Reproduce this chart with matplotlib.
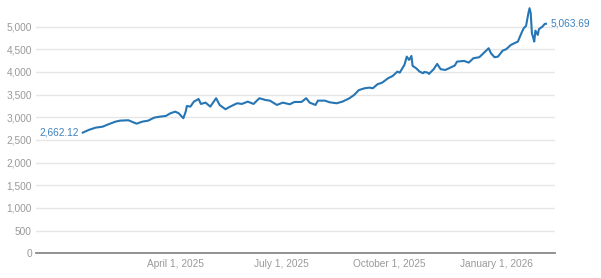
import matplotlib
matplotlib.use("Agg")
import matplotlib.pyplot as plt
import pandas as pd

plt.rcParams['font.family'] = ['Liberation Sans', 'DejaVu Sans']

dates = [
    "2025-01-12", "2025-01-17", "2025-01-23", "2025-01-29", "2025-02-03", "2025-02-09",
    "2025-02-13", "2025-02-20", "2025-02-27", "2025-03-04", "2025-03-09", "2025-03-14",
    "2025-03-19", "2025-03-24", "2025-03-28", "2025-04-01", "2025-04-04", "2025-04-08",
    "2025-04-10", "2025-04-11", "2025-04-14", "2025-04-17", "2025-04-21", "2025-04-23",
    "2025-04-27", "2025-05-01", "2025-05-06", "2025-05-09", "2025-05-14", "2025-05-18",
    "2025-05-24", "2025-05-28", "2025-06-02", "2025-06-07", "2025-06-12", "2025-06-17",
    "2025-06-21", "2025-06-27", "2025-07-02", "2025-07-08", "2025-07-12", "2025-07-18",
    "2025-07-22", "2025-07-25", "2025-07-30", "2025-08-01", "2025-08-07", "2025-08-11",
    "2025-08-17", "2025-08-22", "2025-08-28", "2025-09-01", "2025-09-05", "2025-09-10",
    "2025-09-14", "2025-09-17", "2025-09-21", "2025-09-25", "2025-09-30", "2025-10-04",
    "2025-10-08", "2025-10-10", "2025-10-14", "2025-10-16", "2025-10-18", "2025-10-20",
    "2025-10-21", "2025-10-24", "2025-10-27", "2025-10-30", "2025-10-31", "2025-11-03",
    "2025-11-04", "2025-11-08", "2025-11-11", "2025-11-14", "2025-11-18", "2025-11-23",
    "2025-11-26", "2025-11-28", "2025-12-04", "2025-12-08", "2025-12-12", "2025-12-17",
    "2025-12-20", "2025-12-25", "2025-12-27", "2025-12-30", "2026-01-02", "2026-01-06",
    "2026-01-09", "2026-01-13", "2026-01-16", "2026-01-19", "2026-01-22", "2026-01-24",
    "2026-01-26", "2026-01-28", "2026-01-29", "2026-01-30", "2026-01-31", "2026-02-01",
    "2026-02-02", "2026-02-03", "2026-02-05", "2026-02-06", "2026-02-09", "2026-02-11",
    "2026-02-12",
]
values = [
    2662.12, 2721, 2772, 2794, 2847, 2905,
    2927, 2935, 2860, 2905, 2927, 2993,
    3015, 3030, 3090, 3125, 3090, 2980,
    3125, 3251, 3236, 3346, 3405, 3295,
    3324, 3236, 3421, 3273, 3178, 3236,
    3310, 3295, 3346, 3295, 3421, 3383,
    3368, 3273, 3324, 3288, 3339, 3339,
    3421, 3324, 3273, 3368, 3368, 3332,
    3310, 3346, 3421, 3494, 3600, 3641,
    3655, 3641, 3730, 3765, 3862, 3913,
    4008, 3986, 4156, 4339, 4266, 4354,
    4134, 4083, 4008, 3973, 4001, 3986,
    3957, 4061, 4178, 4061, 4045, 4105,
    4141, 4229, 4244, 4207, 4304, 4326,
    4399, 4524, 4414, 4326, 4339, 4472,
    4502, 4597, 4635, 4670, 4855, 4966,
    5017, 5297, 5407, 5297, 4855, 4767,
    4670, 4913, 4818, 4944, 5001, 5061,
    5063.69,
]
yticks = [0, 500, 1000, 1500, 2000, 2500, 3000, 3500, 4000, 4500, 5000]
xtick_dates = ["2025-04-01", "2025-07-01", "2025-10-01", "2026-01-01"]
xtick_labels = ["April 1, 2025", "July 1, 2025", "October 1, 2025", "January 1, 2026"]
start_label = "2,662.12"
end_label = "5,063.69"

x = pd.to_datetime(dates)
line_color = "#2676b5"
text_color = "#3d82bd"
tick_color = "#999999"

fig = plt.figure(figsize=(6.01, 2.78), dpi=100)
ax = fig.add_axes([36 / 601, (278 - 253.3) / 278, (555 - 36) / 601, 249.3 / 278])

ax.plot(x, values, color=line_color, lw=1.5, solid_joinstyle="round")

ax.set_ylim(0, 5500)
ax.set_xlim(pd.Timestamp("2024-12-03"), pd.Timestamp("2026-02-19 18:00"))
ax.set_yticks(yticks)
ax.set_yticklabels([f"{v:,}" for v in yticks])
ax.set_xticks(pd.to_datetime(xtick_dates))
ax.set_xticklabels(xtick_labels)

ax.grid(axis="y", color="#e6e6e6", lw=1.0)
ax.set_axisbelow(True)
for s in ["top", "right", "left"]:
    ax.spines[s].set_visible(False)
ax.spines["bottom"].set_color("#8a8a8a")
ax.spines["bottom"].set_linewidth(1.3)
ax.tick_params(axis="both", length=0, colors=tick_color, labelsize=7.3)
ax.tick_params(axis="y", pad=3)
ax.tick_params(axis="x", pad=4)

ax.annotate(start_label, (x[0], values[0]), xytext=(-2.5, 0), textcoords="offset points",
            ha="right", va="center", color=text_color, fontsize=7.3)
ax.annotate(end_label, (x[-1], values[-1]), xytext=(3.6, 0), textcoords="offset points",
            ha="left", va="center", color=text_color, fontsize=7.3)

fig.savefig("out.png", dpi=100)
